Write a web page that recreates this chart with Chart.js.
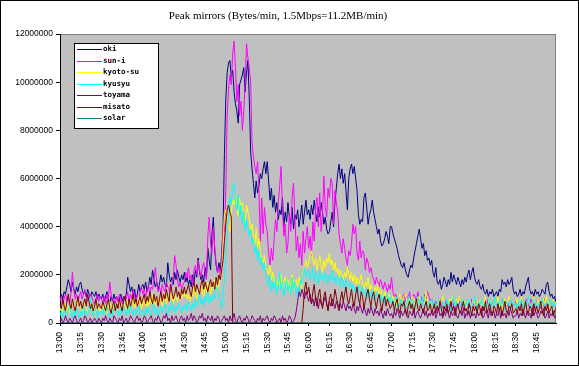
<!DOCTYPE html>
<html>
<head>
<meta charset="utf-8">
<script src="https://cdn.jsdelivr.net/npm/chart.js@4"></script>
<style>
  html, body { margin: 0; padding: 0; background: #fff; }
  #wrap { width: 579px; height: 366px; }
</style>
</head>
<body>
<div id="wrap"><canvas id="chart" width="579" height="366"></canvas></div>
<script>
// values per minute, 13:00 .. 18:59, in units of 100,000 bytes/min
const UNIT = 100000;

const oki = [
  11,12,10,13,12,15,18,16,13,17,14,12,15,13,16,17,14,12,13,11,14,12,10,13,12,11,13,10,12,11,
  10,12,9,11,13,10,8,11,9,12,10,11,9,10,12,9,11,10,12,19,16,13,15,11,14,10,12,16,13,15,
  16,14,17,13,15,19,16,22,18,15,17,14,16,20,17,19,16,15,25,20,17,19,16,21,18,22,19,17,20,18,
  21,17,19,16,18,15,20,17,22,19,27,21,18,20,17,23,19,31,26,22,37,44,30,24,21,25,22,28,39,70,
  93,104,108,109,102,105,96,91,88,83,99,101,103,106,96,104,109,93,71,64,58,52,59,54,57,62,60,64,67,62,
  67,59,51,56,48,53,46,50,43,47,45,52,40,46,42,50,44,41,48,39,45,43,47,40,44,49,41,46,51,45,
  47,43,49,45,51,46,42,48,44,50,46,41,44,39,37,38,42,46,40,50,56,62,66,60,64,58,62,55,47,60,
  64,66,62,65,60,55,45,41,43,42,52,54,48,41,45,47,51,46,43,40,37,39,34,32,33,35,38,36,33,40,
  40,37,35,33,31,28,26,24,23,25,22,20,19,22,24,23,27,30,33,36,39,35,31,33,28,30,26,27,24,26,
  21,19,23,17,16,18,14,16,19,17,15,18,16,21,17,20,18,16,19,17,15,18,16,19,17,20,22,18,21,23,
  19,17,16,18,15,14,16,13,12,14,11,13,12,14,11,12,13,11,14,13,18,16,17,15,18,16,17,19,14,12,
  13,11,12,14,11,13,12,15,17,19,14,12,13,11,14,12,13,11,12,14,13,12,16,17,13,11,12,10,11,8
];

const sunI = [
  9,11,8,10,12,9,11,8,13,21,14,10,12,9,11,13,10,12,14,11,9,10,12,11,9,8,10,12,9,11,
  10,9,11,8,12,10,17,12,9,10,8,11,9,12,10,8,9,11,10,13,9,12,10,14,11,9,12,10,13,15,
  12,14,11,13,16,12,15,14,18,23,17,13,15,12,16,14,13,17,15,14,12,16,19,28,24,18,15,17,14,16,
  17,21,19,23,18,20,16,22,24,20,26,22,19,23,25,21,18,36,44,33,29,40,31,25,21,23,20,25,40,38,
  55,86,97,103,99,112,117,106,92,99,86,92,80,88,99,116,110,106,100,75,69,65,62,67,55,34,52,37,48,41,
  38,29,24,31,26,35,43,38,50,57,65,48,36,41,29,33,45,38,52,58,44,30,36,27,33,24,38,29,35,40,
  31,36,28,42,34,47,52,40,54,38,45,61,48,44,56,52,60,58,41,55,50,46,37,33,29,35,31,27,24,30,
  28,33,41,37,40,29,26,34,27,30,29,22,27,25,21,23,20,18,16,19,17,15,18,16,14,17,15,13,16,14,
  19,13,11,12,10,9,11,8,10,12,9,11,10,13,9,10,12,11,9,13,10,8,11,9,12,10,13,11,9,10,
  8,6,9,7,5,8,10,6,7,9,5,7,8,6,10,7,5,9,6,8,10,7,6,8,5,7,9,6,10,8,
  7,9,6,8,10,7,5,8,9,10,7,8,6,9,7,10,8,6,9,7,10,8,6,9,7,8,10,6,8,7,
  9,6,8,7,10,8,6,9,10,7,8,10,6,8,7,9,10,8,6,9,7,10,8,6,9,7,8,10,7,8
];

const kyotoSu = [
  5,7,4,6,8,5,7,4,6,9,7,5,6,10,8,6,5,7,9,6,4,6,8,5,7,6,4,8,6,5,
  6,8,5,7,4,6,9,7,5,8,6,4,7,9,6,5,8,7,6,9,5,7,10,8,6,9,7,11,8,6,
  8,10,7,9,6,11,8,12,9,7,10,8,11,9,7,10,12,8,11,9,13,10,8,12,10,9,11,13,10,12,
  11,14,10,12,9,13,11,15,12,10,14,12,16,13,11,15,13,17,14,12,16,14,18,15,13,16,19,22,32,45,
  47,44,40,38,46,51,49,53,48,44,52,47,50,45,42,49,46,43,38,41,36,33,39,31,35,29,27,25,28,23,
  22,20,24,18,21,17,19,15,18,16,20,14,17,19,15,18,13,16,20,17,14,18,15,19,16,14,21,24,26,23,
  25,28,30,26,24,27,22,25,28,24,21,26,23,27,25,29,24,26,22,25,21,23,19,22,20,18,21,19,23,20,
  18,21,17,20,16,19,15,18,20,16,14,17,15,19,13,16,14,12,15,13,16,11,14,12,10,13,11,9,12,10,
  9,11,8,10,7,9,12,8,10,11,12,9,7,10,8,11,9,6,10,8,11,7,9,12,8,13,10,7,9,8,
  7,9,6,8,10,7,9,11,8,6,9,7,10,8,11,9,7,10,8,11,9,10,7,9,6,8,10,9,7,10,
  8,6,9,7,10,8,6,9,11,7,8,10,6,9,7,10,8,11,7,9,6,8,10,7,9,11,8,6,9,7,
  8,10,7,9,11,8,6,9,7,10,8,6,9,11,7,8,10,6,9,7,10,8,11,7,9,6,8,10,7,9
];

const kyusyu = [
  3,5,2,6,4,3,5,7,4,2,5,3,6,4,2,5,3,7,4,5,3,6,11,5,3,4,6,2,5,4,
  4,6,3,5,7,4,2,5,3,6,8,4,5,3,6,4,7,5,3,6,4,8,5,3,6,4,5,7,3,5,
  5,3,6,4,7,5,3,6,8,4,6,3,5,7,4,6,8,5,3,7,5,9,6,4,7,5,8,6,4,7,
  6,8,5,9,7,5,8,6,10,7,9,12,8,10,7,11,9,13,8,11,9,12,10,14,15,11,9,6,12,18,
  29,38,45,52,49,56,58,51,47,53,44,49,41,46,38,43,40,36,39,33,35,29,32,26,30,24,27,22,25,20,
  18,15,20,13,17,14,19,12,16,21,14,17,11,15,18,13,16,12,19,14,17,11,15,13,18,16,20,23,19,21,
  22,18,20,23,17,21,19,16,22,18,20,17,21,19,16,20,18,22,17,19,16,20,18,15,19,17,14,18,16,15,
  17,14,16,13,15,12,16,14,11,15,13,12,14,10,13,11,14,12,9,13,11,10,12,9,11,8,10,12,9,11,
  8,10,7,9,11,6,8,10,7,9,6,8,11,7,9,10,8,6,9,11,8,10,7,12,9,8,6,9,7,10,
  7,9,6,8,10,7,5,9,8,6,10,7,9,5,8,11,7,9,6,8,7,10,8,6,9,7,10,8,6,9,
  11,8,6,9,7,10,8,6,9,7,8,10,6,9,7,11,8,6,9,7,10,8,6,9,8,7,10,6,9,7,
  8,6,9,7,10,8,6,9,7,11,8,6,9,10,7,8,6,9,7,10,8,6,9,7,8,10,6,9,7,8
];

const toyama = [
  1,2,0,1,3,1,0,2,1,0,2,3,1,0,1,2,0,1,3,2,0,1,2,0,1,2,1,0,2,1,
  0,2,1,3,1,0,2,1,0,3,2,1,0,2,1,3,0,1,2,0,1,3,2,1,0,2,3,1,2,0,
  1,3,2,0,1,2,3,1,0,2,1,3,2,0,1,3,2,4,1,2,0,3,1,2,3,1,0,2,3,1,
  2,0,3,1,2,4,1,3,2,0,1,3,2,4,1,2,0,3,2,1,3,0,2,1,3,2,0,1,2,3,
  1,2,0,3,1,2,4,1,0,2,3,1,0,2,1,3,2,0,1,3,2,1,0,2,1,3,0,2,1,2,
  3,1,0,2,1,3,2,0,1,2,0,3,1,2,0,1,3,2,0,1,2,5,9,13,11,14,12,10,13,11,
  9,12,8,10,7,11,9,6,10,8,7,9,11,8,6,9,7,10,8,6,9,7,5,8,6,9,7,5,8,6,
  7,5,8,6,4,7,5,8,6,4,7,5,3,6,4,7,5,3,6,4,5,3,6,4,2,5,3,6,4,3,
  4,2,5,3,6,4,2,5,3,4,6,3,2,5,4,3,6,2,4,5,3,2,4,6,3,5,2,4,3,5,
  3,5,2,4,6,3,4,2,5,3,6,4,2,5,3,4,6,3,2,4,5,3,6,2,4,3,5,2,4,3,
  4,2,5,3,4,6,2,3,5,4,2,6,3,4,5,2,4,3,6,2,5,3,4,2,5,3,6,4,2,3,
  3,5,2,4,3,6,4,2,5,3,4,2,6,3,5,4,2,3,5,4,6,2,3,5,2,4,3,5,2,3
];

const misato = [
  8,6,10,7,5,9,12,8,6,10,7,5,8,11,7,9,6,8,10,7,12,9,6,8,5,7,10,6,8,7,
  6,9,7,5,8,10,6,4,7,9,5,8,6,10,7,5,9,11,8,6,10,7,9,12,8,10,7,9,11,8,
  10,12,8,11,9,13,10,8,12,9,11,7,10,13,9,12,10,14,11,9,16,13,10,12,15,11,13,10,14,12,
  15,12,14,16,13,11,15,17,13,16,14,12,16,18,14,17,15,13,16,18,15,17,14,19,16,20,18,22,26,34,
  41,47,49,46,44,0,0,0,0,0,0,0,0,0,0,0,0,0,0,0,0,0,0,0,0,0,0,0,0,0,
  0,0,0,0,0,0,0,0,0,0,0,0,0,0,0,0,0,0,0,0,0,0,0,0,0,0,6,14,17,12,
  15,11,8,13,16,10,7,12,14,9,6,11,13,8,5,10,12,7,9,14,11,8,6,10,13,9,12,15,10,8,
  11,14,9,7,12,15,10,8,13,11,6,9,12,14,10,7,11,13,9,6,10,12,8,5,9,11,7,10,8,6,
  7,9,5,8,10,6,4,8,7,9,5,3,7,9,6,8,4,7,10,6,5,8,6,4,7,9,5,6,8,4,
  6,8,4,7,5,9,6,3,7,5,8,4,6,9,5,7,3,6,8,5,4,7,9,5,6,4,8,6,3,7,
  5,7,4,8,6,3,7,5,9,4,6,8,5,3,7,6,4,8,5,7,3,6,9,5,4,7,6,8,4,5,
  6,4,7,5,8,3,6,9,5,4,7,6,3,8,5,7,4,6,9,5,3,7,5,8,4,6,7,3,5,6
];

const solar = [
  0,0,0,0,0,0,0,0,0,0,0,0,0,0,0,0,0,0,0,0,0,0,0,0,0,0,0,0,0,0,
  0,0,0,0,0,0,0,0,0,0,0,0,0,0,0,0,0,0,0,0,0,0,0,0,0,0,0,0,0,0,
  0,0,0,0,0,0,0,0,0,0,0,0,0,0,0,0,0,0,0,0,0,0,0,0,0,0,0,0,0,0,
  0,0,0,0,0,0,0,0,0,0,0,0,0,0,0,0,0,0,0,0,0,0,0,0,0,0,0,0,0,0,
  0,0,0,0,0,0,0,0,0,0,0,0,0,0,0,0,0,0,0,0,0,0,0,0,0,0,0,0,0,0,
  0,0,0,0,0,0,0,0,0,0,0,0,0,0,0,0,0,0,0,0,0,0,0,0,0,0,0,0,0,0,
  0,0,0,0,0,0,0,0,0,0,0,0,0,0,0,0,0,0,0,0,0,0,0,0,0,0,0,0,0,0,
  0,0,0,0,0,0,0,0,0,0,0,0,0,0,0,0,0,0,0,0,0,0,0,0,0,0,0,0,0,0,
  0,0,0,0,0,0,0,0,0,0,0,0,0,0,0,0,0,0,0,0,0,0,0,0,0,0,0,0,0,0,
  0,0,0,0,0,0,0,0,0,0,0,0,0,0,0,0,0,0,0,0,0,0,0,0,0,0,0,0,0,0,
  0,0,0,0,0,0,0,0,0,0,0,0,0,0,0,0,0,0,0,0,0,0,0,0,0,0,0,0,0,0,
  0,0,0,0,0,0,0,0,0,0,0,0,0,0,0,0,0,0,0,0,0,0,0,0,0,0,0,0,0,0
];

const seriesNames = ['oki', 'sun-i', 'kyoto-su', 'kyusyu', 'toyama', 'misato', 'solar'];
const seriesColors = ['#000080', '#ff00ff', '#ffff00', '#00ffff', '#800080', '#800000', '#008080'];
const seriesValues = [oki, sunI, kyotoSu, kyusyu, toyama, misato, solar];

// one category per minute, label shown every 15 min
const times = [];
for (let m = 0; m < 360; m++) {
    const h = 13 + Math.floor(m / 60);
    const mm = m % 60;
    times.push(h + ':' + (mm < 10 ? '0' : '') + mm);
}

const bgPlugin = {
    id: 'bg',
    beforeDraw(chart) {
        const { ctx, chartArea: a } = chart;
        ctx.save();
        ctx.fillStyle = '#fff';
        ctx.fillRect(0, 0, chart.width, chart.height);
        ctx.fillStyle = '#c0c0c0';
        ctx.fillRect(a.left, a.top, a.right - a.left, a.bottom - a.top);
        ctx.strokeStyle = '#808080';
        ctx.lineWidth = 1;
        ctx.strokeRect(a.left + 0.5, a.top + 0.5, a.right - a.left - 1, a.bottom - a.top - 1);
        ctx.restore();
    },
    afterDraw(chart) {
        const ctx = chart.ctx;
        ctx.save();
        // legend box inside plot
        const lx = 74, ly = 43, lw = 84, lh = 85;
        ctx.fillStyle = '#fff';
        ctx.fillRect(lx, ly, lw, lh);
        ctx.strokeStyle = '#000';
        ctx.lineWidth = 1;
        ctx.strokeRect(lx + 0.5, ly + 0.5, lw, lh);
        ctx.font = 'bold 7.5px "DejaVu Sans Mono"';
        ctx.textBaseline = 'middle';
        chart.data.datasets.forEach((ds, i) => {
            const y = Math.round(49 + i * 11.5);
            ctx.fillStyle = ds.borderColor;
            ctx.fillRect(77, y, 25, 1);
            ctx.fillStyle = '#000';
            ctx.fillText(ds.label, 103, y + 0.5);
        });
        // outer frame
        ctx.strokeStyle = '#000';
        ctx.strokeRect(0.5, 0.5, chart.width - 1, chart.height - 1);
        ctx.restore();
    }
};

new Chart(document.getElementById('chart'), {
    type: 'line',
    data: {
        labels: times,
        datasets: seriesNames.map((name, i) => ({
            label: name,
            data: seriesValues[i].map(v => v * UNIT),
            borderColor: seriesColors[i],
            backgroundColor: seriesColors[i],
            borderWidth: 1,
            pointRadius: 0,
            tension: 0,
            order: seriesNames.length - i
        }))
    },
    options: {
        responsive: false,
        animation: false,
        devicePixelRatio: 1,
        layout: { padding: { left: 0, right: 23, top: 0, bottom: 0 } },
        plugins: {
            legend: { display: false },
            tooltip: { enabled: false },
            title: {
                display: true,
                text: 'Peak mirrors (Bytes/min, 1.5Mbps=11.2MB/min)',
                color: '#000',
                font: { family: '"Liberation Serif"', size: 11, weight: 'normal' },
                padding: { top: 10, bottom: 10.8 }
            }
        },
        scales: {
            x: {
                type: 'category',
                offset: false,
                afterFit(scale) { scale.height = 43; },
                grid: { display: true, drawOnChartArea: false, drawTicks: true, tickLength: 3, color: '#000' },
                border: { display: true, color: '#000' },
                ticks: {
                    autoSkip: false,
                    maxRotation: 90,
                    minRotation: 90,
                    padding: 6,
                    color: '#000',
                    font: { family: '"Liberation Sans"', size: 8.5 },
                    callback(v, i) { return i % 15 === 0 ? times[i] : null; }
                }
            },
            y: {
                min: 0,
                max: 12000000,
                afterFit(scale) { scale.width = 60; },
                grid: { display: true, drawOnChartArea: false, drawTicks: true, tickLength: 4, color: '#000' },
                border: { display: true, color: '#000' },
                ticks: {
                    stepSize: 2000000,
                    padding: 3,
                    color: '#000',
                    font: { family: '"Liberation Sans"', size: 8.5 },
                    callback(v) { return String(v); }
                }
            }
        }
    },
    plugins: [bgPlugin]
});
</script>
</body>
</html>
